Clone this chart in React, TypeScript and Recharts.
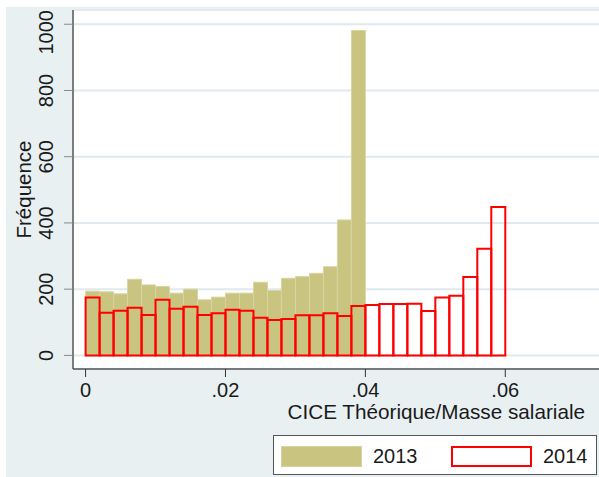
import { BarChart, Bar, XAxis, YAxis, CartesianGrid } from 'recharts';

// histogram bins (width .002), centre of each bin
const binCenters = [
  0.001, 0.003, 0.005, 0.007, 0.009, 0.011, 0.013, 0.015, 0.017, 0.019,
  0.021, 0.023, 0.025, 0.027, 0.029, 0.031, 0.033, 0.035, 0.037, 0.039,
  0.041, 0.043, 0.045, 0.047, 0.049, 0.051, 0.053, 0.055, 0.057, 0.059,
];

const freq2013 = [
  194, 192, 186, 230, 213, 208, 188, 200, 168, 176,
  188, 188, 221, 196, 233, 238, 248, 268, 409, 981,
];

const freq2014 = [
  175, 129, 135, 144, 122, 168, 141, 147, 122, 127,
  138, 135, 114, 107, 110, 121, 121, 127, 119, 149,
  152, 155, 155, 156, 134, 175, 180, 237, 322, 448,
];

const xTicks = [0, 0.02, 0.04, 0.06];
const yTicks = [0, 200, 400, 600, 800, 1000];
const legendLabels = ['2013', '2014'];

const FONT = '"Liberation Sans", Arial, Helvetica, sans-serif';
const KHAKI = '#c9c47f';
const RED = '#ff0000';
const BG = '#e8f0f2';
const PLOT_TOP = 10;

const data = binCenters.map((x, i) => ({
  x,
  y2013: i < freq2013.length ? freq2013[i] : null,
  y2014: freq2014[i],
}));

const fmtX = (v: number) => (v === 0 ? '0' : String(v).replace(/^0/, ''));

const YTick = (props: any) => {
  const { x, y, payload } = props;
  const label = String(payload.value);
  const cx = x - 16;
  const half = (label.length * 0.556 * 20) / 2;
  let cy = y;
  let anchor = 'middle';
  // Stata pushes the top label down so it stays inside the plot region
  if (y - half < PLOT_TOP) {
    cy = PLOT_TOP;
    anchor = 'end';
  }
  return (
    <text
      x={cx}
      y={cy}
      dy="0.35em"
      transform={`rotate(-90 ${cx} ${cy})`}
      textAnchor={anchor}
      fontSize={20}
      fontFamily={FONT}
      fill="#1a1a1a"
    >
      {label}
    </text>
  );
};

const XTitle = (props: any) => {
  const vb = props.viewBox || { x: 73, y: 369, width: 526 };
  return (
    <text
      x={vb.x + vb.width - 14}
      y={vb.y + 50}
      textAnchor="end"
      fontSize={20.7}
      fontFamily={FONT}
      fill="#1a1a1a"
    >
      CICE Théorique/Masse salariale
    </text>
  );
};

const YTitle = (props: any) => {
  const vb = props.viewBox || { x: 0, y: 10, height: 359 };
  const cx = vb.x + 24;
  const cy = vb.y + vb.height / 2;
  return (
    <text
      x={cx}
      y={cy}
      dy="0.35em"
      transform={`rotate(-90 ${cx} ${cy})`}
      textAnchor="middle"
      fontSize={20.5}
      fontFamily={FONT}
      fill="#1a1a1a"
    >
      Fréquence
    </text>
  );
};

function Legend2() {
  const swatches = [
    { background: KHAKI, border: '1px solid #d6d3a0' },
    { background: '#fff', border: `2px solid ${RED}` },
  ];
  return (
    <div
      style={{
        position: 'absolute',
        left: 273,
        top: 435,
        width: 324,
        height: 40,
        boxSizing: 'border-box',
        border: '1px solid #555',
        background: '#fff',
        fontFamily: FONT,
        fontSize: 20,
        color: '#1a1a1a',
      }}
    >
      {legendLabels.map((name, i) => (
        <div
          key={name}
          style={{
            position: 'absolute',
            left: 7 + i * 170,
            top: 10,
            display: 'flex',
            alignItems: 'center',
          }}
        >
          <div
            style={{
              width: 81,
              height: 21,
              boxSizing: 'border-box',
              ...swatches[i],
            }}
          />
          <span style={{ marginLeft: 11, lineHeight: '21px' }}>{name}</span>
        </div>
      ))}
    </div>
  );
}

export default function App() {
  return (
    <div
      style={{
        position: 'absolute',
        left: 0,
        top: 0,
        width: 599,
        height: 477,
        background: '#fff',
        overflow: 'hidden',
      }}
    >
      <div
        style={{ position: 'absolute', left: 6, top: 7, right: 0, bottom: 0, background: BG }}
      />
      <div style={{ position: 'absolute', left: 0, top: 0 }}>
        <BarChart
          width={599}
          height={477}
          data={data}
          margin={{ top: PLOT_TOP, right: 0, bottom: 0, left: 0 }}
          barCategoryGap={0}
          barGap={0}
        >
          <CartesianGrid
            xAxisId="a"
            vertical={false}
            stroke="#e0e9ed"
            strokeWidth={2}
            fill="#fff"
          />
          <XAxis
            xAxisId="a"
            dataKey="x"
            type="number"
            domain={[-0.0018, 0.0734]}
            allowDataOverflow
            ticks={xTicks}
            tickFormatter={fmtX}
            height={108}
            tickSize={8}
            tickMargin={6}
            interval={0}
            axisLine={{ stroke: '#555', strokeWidth: 1.5 }}
            tickLine={{ stroke: '#333' }}
            tick={{ fontSize: 20, fontFamily: FONT, fill: '#1a1a1a' }}
            label={<XTitle />}
          />
          <XAxis
            xAxisId="b"
            dataKey="x"
            type="number"
            domain={[-0.0018, 0.0734]}
            allowDataOverflow
            hide
          />
          <YAxis
            domain={[-41, 1043]}
            allowDataOverflow
            ticks={yTicks}
            interval={0}
            width={73}
            tickSize={9}
            tickMargin={2}
            axisLine={{ stroke: '#555', strokeWidth: 1.5 }}
            tickLine={{ stroke: '#888' }}
            tick={<YTick />}
            label={<YTitle />}
          />
          <Bar
            xAxisId="a"
            dataKey="y2013"
            fill={KHAKI}
            stroke="#d8d5a2"
            strokeWidth={1}
            isAnimationActive={false}
          />
          <Bar
            xAxisId="b"
            dataKey="y2014"
            fill="none"
            stroke={RED}
            strokeWidth={2}
            isAnimationActive={false}
          />
        </BarChart>
      </div>
      <Legend2 />
    </div>
  );
}
